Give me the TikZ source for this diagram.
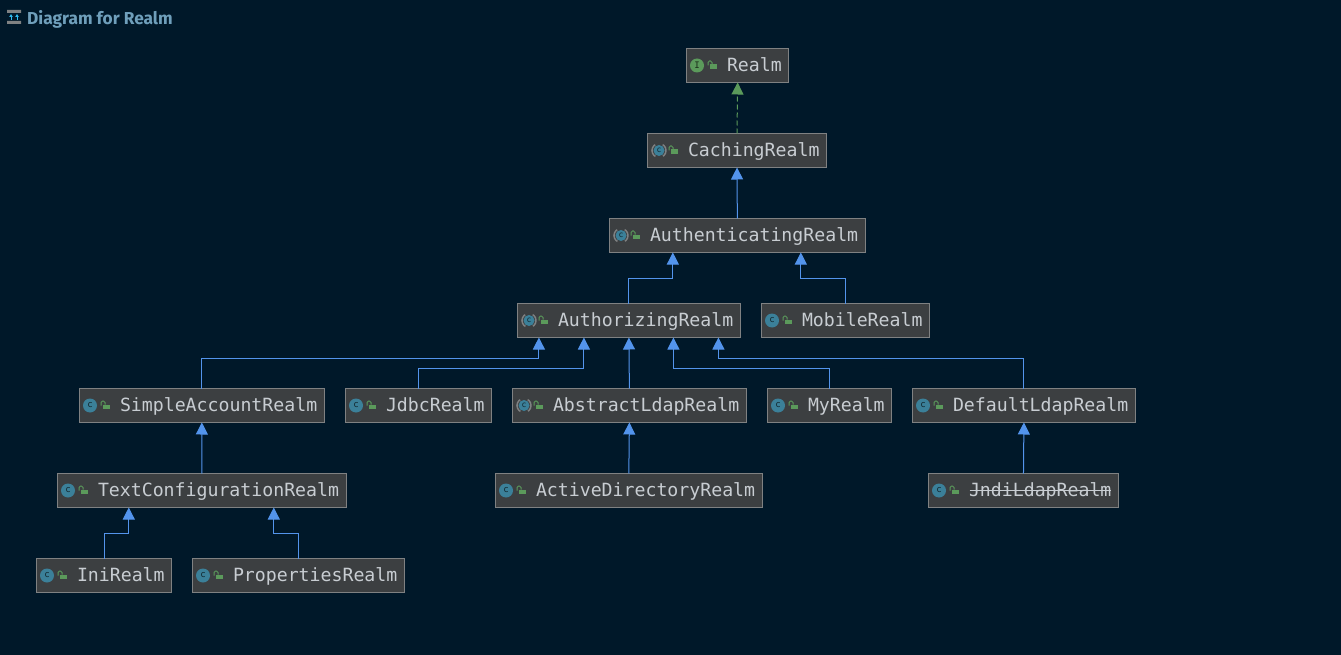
\documentclass[tikz,border=0pt]{standalone}
\usepackage{fontspec}
\setmonofont{DejaVu Sans Mono}
\setsansfont{Fira Sans}
\usetikzlibrary{arrows.meta}

\definecolor{paneback}{HTML}{001829}
\definecolor{boxfill}{HTML}{3C3F41}
\definecolor{boxline}{HTML}{7F8182}
\definecolor{boxtext}{HTML}{C8CDD2}
\definecolor{titletext}{HTML}{6F9FBB}
\definecolor{extline}{HTML}{5394EC}
\definecolor{implline}{HTML}{5B9A5B}
\definecolor{classteal}{HTML}{3B8099}

\begin{document}
\begin{tikzpicture}[x=1pt,y=-1pt,
  type node/.style={rectangle,anchor=west,fill=boxfill,draw=boxline,line width=1pt,outer sep=0pt,
    inner xsep=0pt,inner ysep=0pt,minimum height=34pt,text height=14pt,text depth=2pt,text=boxtext,
    font=\ttfamily\fontsize{18.2}{20}\selectfont,execute at begin node={\hspace*{40.5pt}},execute at end node={\hspace*{7pt}}},
  class icon/.style={circle,fill=classteal,inner sep=0pt,minimum size=14pt,text=black!70!classteal,
    font=\ttfamily\fontsize{9}{9}\selectfont},
  abstract icon/.style={circle,fill=classteal,inner sep=0pt,minimum size=11pt,text=black!70!classteal,
    font=\ttfamily\fontsize{8}{8}\selectfont},
  extends/.style={-{Triangle[width=12pt,length=12pt]},draw=extline,line width=1pt},
  implements/.style={-{Triangle[width=12pt,length=12pt]},draw=implline,line width=1pt,dash pattern=on 5pt off 3pt}]

  \path[fill=paneback,use as bounding box] (0,0) rectangle (1341,655);

  % title
  \node[anchor=west,inner sep=0pt,text=titletext,font=\sffamily\bfseries\fontsize{17.3}{20}\selectfont] (title) at (27,19) {Diagram for Realm};
  \fill[boxline] (7,10) rectangle (21,13) (7,21) rectangle (21,24);
  \draw[extline!60!cyan,line width=1pt,-{Latex[length=3pt,width=4pt]}] (11,20) -- (11,14);
  \draw[extline!60!cyan,line width=1pt,-{Latex[length=3pt,width=4pt]}] (17,20) -- (17,14);

  \node[type node] (realm) at (686.5,65.5) {Realm};
  \node[type node] (caching) at (647.5,150.5) {CachingRealm};
  \node[type node] (authn) at (609.5,235.5) {AuthenticatingRealm};
  \node[type node] (authz) at (517.5,320.5) {AuthorizingRealm};
  \node[type node] (mobile) at (761.5,320.5) {MobileRealm};
  \node[type node] (simple) at (79.5,405.5) {SimpleAccountRealm};
  \node[type node] (jdbc) at (345.5,405.5) {JdbcRealm};
  \node[type node] (ldap) at (512.5,405.5) {AbstractLdapRealm};
  \node[type node] (my) at (767.5,405.5) {MyRealm};
  \node[type node] (default) at (912.5,405.5) {DefaultLdapRealm};
  \node[type node] (textconf) at (57.5,490.5) {TextConfigurationRealm};
  \node[type node] (active) at (495.5,490.5) {ActiveDirectoryRealm};
  \node[type node] (jndi) at (928.5,490.5) {JndiLdapRealm};
  \node[type node] (ini) at (36.5,575.5) {IniRealm};
  \node[type node] (props) at (192.5,575.5) {PropertiesRealm};

  % deprecated
  \draw[boxtext,line width=1pt] ([xshift=41pt]jndi.west) -- ([xshift=-7pt]jndi.east);

  % icons
  \node[class icon,fill=implline,text=black!70!implline] (realm icon) at ([xshift=10.5pt]realm.west) {I};
  \foreach \n in {mobile,simple,jdbc,my,default,textconf,active,jndi,ini,props}
    \node[class icon] (\n icon) at ([xshift=10.5pt]\n.west) {c};
  \foreach \n in {caching,authn,authz,ldap} {
    \draw[boxline,line width=1.5pt,dash pattern=on 14pt off 8pt,dash phase=7pt] ([xshift=11.5pt]\n.west) circle (7pt);
    \node[abstract icon] (\n icon) at ([xshift=11.5pt]\n.west) {c};
  }
  \foreach \n in {realm,caching,authn,authz,mobile,simple,jdbc,ldap,my,default,textconf,active,jndi,ini,props} {
    \fill[implline] ([xshift=23.5pt,yshift=1pt]\n.west) rectangle ([xshift=30pt,yshift=-3.5pt]\n.west);
    \draw[implline,line width=1pt,rounded corners=1.5pt] ([xshift=21.5pt,yshift=0pt]\n.west) -- ([xshift=21.5pt,yshift=4.5pt]\n.west)
      -- ([xshift=25.5pt,yshift=4.5pt]\n.west) -- ([xshift=25.5pt,yshift=1pt]\n.west);
  }

  % free ends on the parents
  \coordinate (authn a) at ([xshift=-64.5pt]authn.south);
  \coordinate (authn b) at ([xshift=63.5pt]authn.south);
  \coordinate (authz a) at ([xshift=-90pt]authz.south);
  \coordinate (authz b) at ([xshift=-45pt]authz.south);
  \coordinate (authz c) at ([xshift=44.5pt]authz.south);
  \coordinate (authz d) at ([xshift=89.5pt]authz.south);
  \coordinate (text a) at ([xshift=-73pt]textconf.south);
  \coordinate (text b) at ([xshift=72pt]textconf.south);

  \draw[implements] (caching.north) -- (realm.south);
  \draw[extends] (authn.north) -- (caching.south);
  \draw[extends] (ldap.north) -- (authz.south);
  \draw[extends] (textconf.north) -- (simple.south);
  \draw[extends] (active.north) -- (ldap.south);
  \draw[extends] (jndi.north) -- (default.south);
  \draw[extends] (authz.north) -- ++(0,-25) -| (authn a);
  \draw[extends] (mobile.north) -- ++(0,-25) -| (authn b);
  \draw[extends] (simple.north) -- ++(0,-30) -| (authz a);
  \draw[extends] (jdbc.north) -- ++(0,-20) -| (authz b);
  \draw[extends] (my.north) -- ++(0,-20) -| (authz c);
  \draw[extends] (default.north) -- ++(0,-30) -| (authz d);
  \draw[extends] (ini.north) -- ++(0,-25) -| (text a);
  \draw[extends] (props.north) -- ++(0,-25) -| (text b);

\end{tikzpicture}
\end{document}
